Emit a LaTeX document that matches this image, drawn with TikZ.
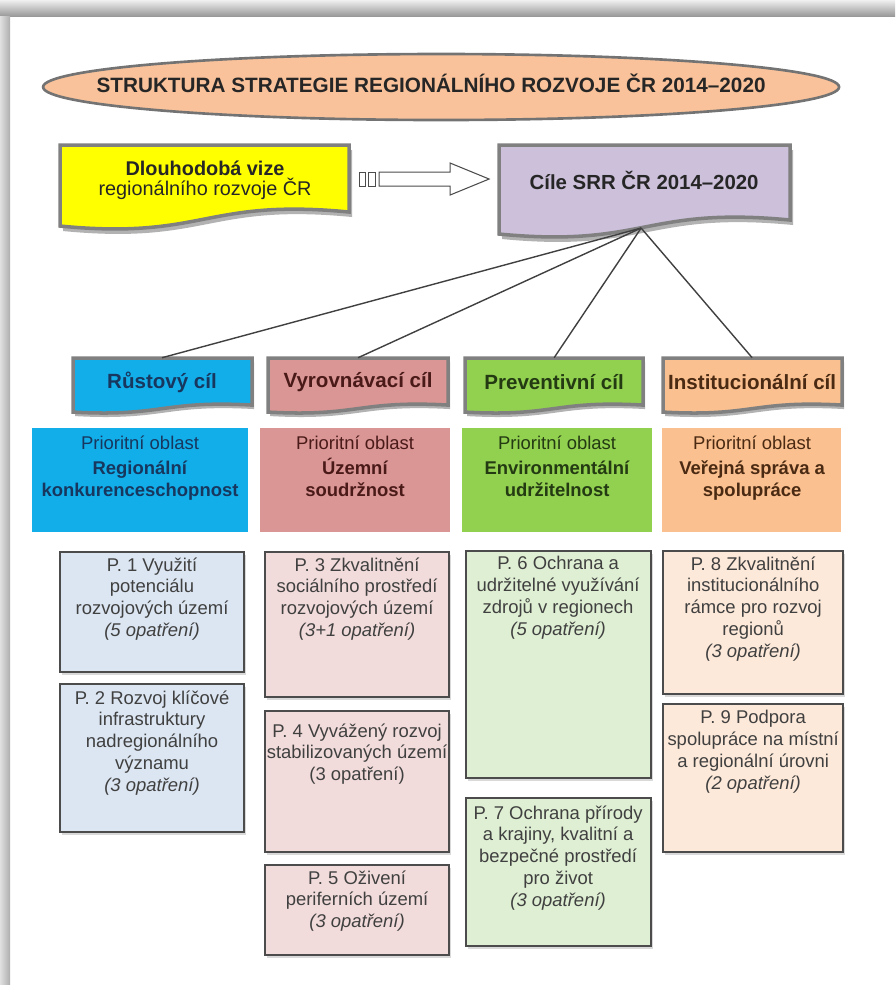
\documentclass[tikz,border=0pt]{standalone}
\usepackage{fontspec}
\setmainfont{Liberation Sans}
\usetikzlibrary{shapes.geometric}

\definecolor{titleorange}{HTML}{F9C29A}
\definecolor{vizeyellow}{HTML}{FFFF00}
\definecolor{cilepurple}{HTML}{CCC0DA}
\definecolor{rustblue}{HTML}{12AEEA}
\definecolor{vyrpink}{HTML}{D99694}
\definecolor{prevgreen}{HTML}{92D050}
\definecolor{instorange}{HTML}{FAC090}
\definecolor{measblue}{HTML}{DCE6F2}
\definecolor{measpink}{HTML}{F2DCDB}
\definecolor{measgreen}{HTML}{DFEFD3}
\definecolor{measorange}{HTML}{FDE9D9}
\definecolor{measgray}{HTML}{404040}
\definecolor{rusttext}{HTML}{17375E}
\definecolor{vyrtext}{HTML}{4A1A19}
\definecolor{prevtext}{HTML}{233A12}
\definecolor{insttext}{HTML}{4A2A12}

\tikzset{
  goal/.style={minimum width=3.58cm, minimum height=0.96cm, inner sep=0pt,
    font=\fontsize{11.7}{14}\selectfont\bfseries},
  area/.style={anchor=north, align=center, inner sep=0pt,
    font=\fontsize{10.5}{12.4}\selectfont},
  measure/.style={anchor=north, align=center, inner sep=0pt, text=measgray,
    font=\fontsize{10.5}{12.4}\selectfont},
  mbox/.style={line width=1.1pt, draw=black!70},
  mshadow/.style={fill=black!15, draw=none},
  wave/.style={line width=2pt, draw=black!50},
  wshadow/.style={fill=black!30, draw=none},
  link/.style={line width=0.8pt, draw=black!75},
  arrowline/.style={line width=0.6pt, draw=black!70, fill=white}
}

% wavy "document" box: style, x1, y1, x2, y left, y right, wave
\newcommand{\wavebox}[7]{%
  \filldraw[#1] (#2,#3) -- (#4,#3) -- (#4,#6)
    .. controls ({#4-0.5*(#4-#2)},{#6-#7}) and ({#2+0.5*(#4-#2)},{#5+#7}) .. (#2,#5) -- cycle;}

\begin{document}
\begin{tikzpicture}
  \useasboundingbox (0,0) rectangle (17.9,-19.7);

  % Frame
  \shade[top color=black!6, bottom color=black!42] (0,-0.34) rectangle (17.9,0);
  \shade[left color=black!12, right color=black!32] (0,-19.7) rectangle (0.2,-0.34);

  \begin{scope}[x=0.02cm, y=-0.02cm]
    % Title
    \node[ellipse, draw=black!55, line width=1.5pt, fill=titleorange,
      minimum width=15.92cm, minimum height=1.32cm] (title) at (441,87) {};
    \node[font=\fontsize{11.8}{13}\selectfont\bfseries, text=black!85] (titletext) at (431,83)
      {STRUKTURA STRATEGIE REGIONÁLNÍHO ROZVOJE ČR 2014–2020};

    % Vision and goals of the strategy
    \wavebox{wshadow, shift={(3,5)}}{60}{145}{349}{226}{212}{14}
    \wavebox{wave, fill=vizeyellow}{60}{145}{349}{226}{212}{14}
    \node[align=center, font=\fontsize{11.3}{11.5}\selectfont, text=black!85] (vize) at (205,180)
      {\textbf{Dlouhodobá vize}\\regionálního rozvoje ČR};

    \wavebox{wshadow, shift={(3,5)}}{499}{145}{790}{234}{220}{14}
    \wavebox{wave, fill=cilepurple}{499}{145}{790}{234}{220}{14}
    \node[font=\fontsize{11.6}{14}\selectfont\bfseries, text=black!85] (cile) at (644,180)
      {Cíle SRR ČR 2014–2020};
    \coordinate (cilebot) at (641,228);

    % Striped arrow
    \draw[arrowline] (359,172) rectangle (365,186);
    \draw[arrowline] (368,172) rectangle (375,186);
    \draw[arrowline] (379,172) -- (450,172) -- (450,163) -- (489,179)
      -- (450,195) -- (450,186) -- (379,186) -- cycle;

    % Four goals
    \wavebox{wshadow, shift={(2,4)}}{73}{358}{252}{412}{405}{5}
    \wavebox{wave, fill=rustblue}{73}{358}{252}{412}{405}{5}
    \wavebox{wshadow, shift={(2,4)}}{268}{358}{448}{412}{405}{5}
    \wavebox{wave, fill=vyrpink}{268}{358}{448}{412}{405}{5}
    \wavebox{wshadow, shift={(2,4)}}{465}{358}{643}{412}{405}{5}
    \wavebox{wave, fill=prevgreen}{465}{358}{643}{412}{405}{5}
    \wavebox{wshadow, shift={(2,4)}}{663}{358}{842}{412}{405}{5}
    \wavebox{wave, fill=instorange}{663}{358}{842}{412}{405}{5}

    \node[goal, text=rusttext] (rust) at (162,382) {Růstový cíl};
    \node[goal, text=vyrtext] (vyr) at (358,382) {Vyrovnávací cíl};
    \node[goal, text=prevtext] (prev) at (554,382) {Preventivní cíl};
    \node[goal, text=insttext] (inst) at (752,382) {Institucionální cíl};

    \foreach \g in {rust,vyr,prev,inst}
      \draw[link] (cilebot) -- (\g.north);

    % Priority areas
    \fill[rustblue] (32,428) rectangle (248,532);
    \fill[vyrpink] (260,428) rectangle (450,532);
    \fill[prevgreen] (462,428) rectangle (652,532);
    \fill[instorange] (662,428) rectangle (841,532);

    \node[area, text=rusttext] (area1) at (140,435)
      {Prioritní oblast\\[2pt]\textbf{Regionální}\\\textbf{konkurenceschopnost}};
    \node[area, text=vyrtext] (area2) at (355,435)
      {Prioritní oblast\\[2pt]\textbf{Územní}\\\textbf{soudržnost}};
    \node[area, text=prevtext] (area3) at (557,435)
      {Prioritní oblast\\[2pt]\textbf{Environmentální}\\\textbf{udržitelnost}};
    \node[area, text=insttext] (area4) at (752,435)
      {Prioritní oblast\\[2pt]\textbf{Veřejná správa a}\\\textbf{spolupráce}};

    % Priorities (shadows first)
    \foreach \xa/\ya/\xb/\yb in {60/552/244/672, 60/684/244/832, 265/552/449/697,
        265/711/449/852, 265/865/449/955, 466/551/651/778, 466/798/651/946,
        663/551/843/694, 663/704/843/852}
      \fill[mshadow] (\xa+2,\ya+3) rectangle (\xb+2,\yb+3);

    \draw[mbox, fill=measblue] (60,552) rectangle (244,672);
    \draw[mbox, fill=measblue] (60,684) rectangle (244,832);
    \draw[mbox, fill=measpink] (265,552) rectangle (449,697);
    \draw[mbox, fill=measpink] (265,711) rectangle (449,852);
    \draw[mbox, fill=measpink] (265,865) rectangle (449,955);
    \draw[mbox, fill=measgreen] (466,551) rectangle (651,778);
    \draw[mbox, fill=measgreen] (466,798) rectangle (651,946);
    \draw[mbox, fill=measorange] (663,551) rectangle (843,694);
    \draw[mbox, fill=measorange] (663,704) rectangle (843,852);

    \node[measure] (p1) at (152,557)
      {P. 1 Využití\\potenciálu\\rozvojových území\\\textit{(5 opatření)}};
    \node[measure] (p2) at (152,690)
      {P. 2 Rozvoj klíčové\\infrastruktury\\nadregionálního\\významu\\\textit{(3 opatření)}};
    \node[measure] (p3) at (357,557)
      {P. 3 Zkvalitnění\\sociálního prostředí\\rozvojových území\\\textit{(3+1 opatření)}};
    \node[measure] (p4) at (357,723)
      {P. 4 Vyvážený rozvoj\\stabilizovaných území\\(3 opatření)};
    \node[measure] (p5) at (357,870)
      {P. 5 Oživení\\periferních území\\\textit{(3 opatření)}};
    \node[measure] (p6) at (558,556)
      {P. 6 Ochrana a\\udržitelné využívání\\zdrojů v regionech\\\textit{(5 opatření)}};
    \node[measure] (p7) at (558,805)
      {P. 7 Ochrana přírody\\a krajiny, kvalitní a\\bezpečné prostředí\\pro život\\\textit{(3 opatření)}};
    \node[measure] (p8) at (753,556)
      {P. 8 Zkvalitnění\\institucionálního\\rámce pro rozvoj\\regionů\\\textit{(3 opatření)}};
    \node[measure] (p9) at (753,710)
      {P. 9 Podpora\\spolupráce na místní\\a regionální úrovni\\\textit{(2 opatření)}};
  \end{scope}
\end{tikzpicture}
\end{document}
